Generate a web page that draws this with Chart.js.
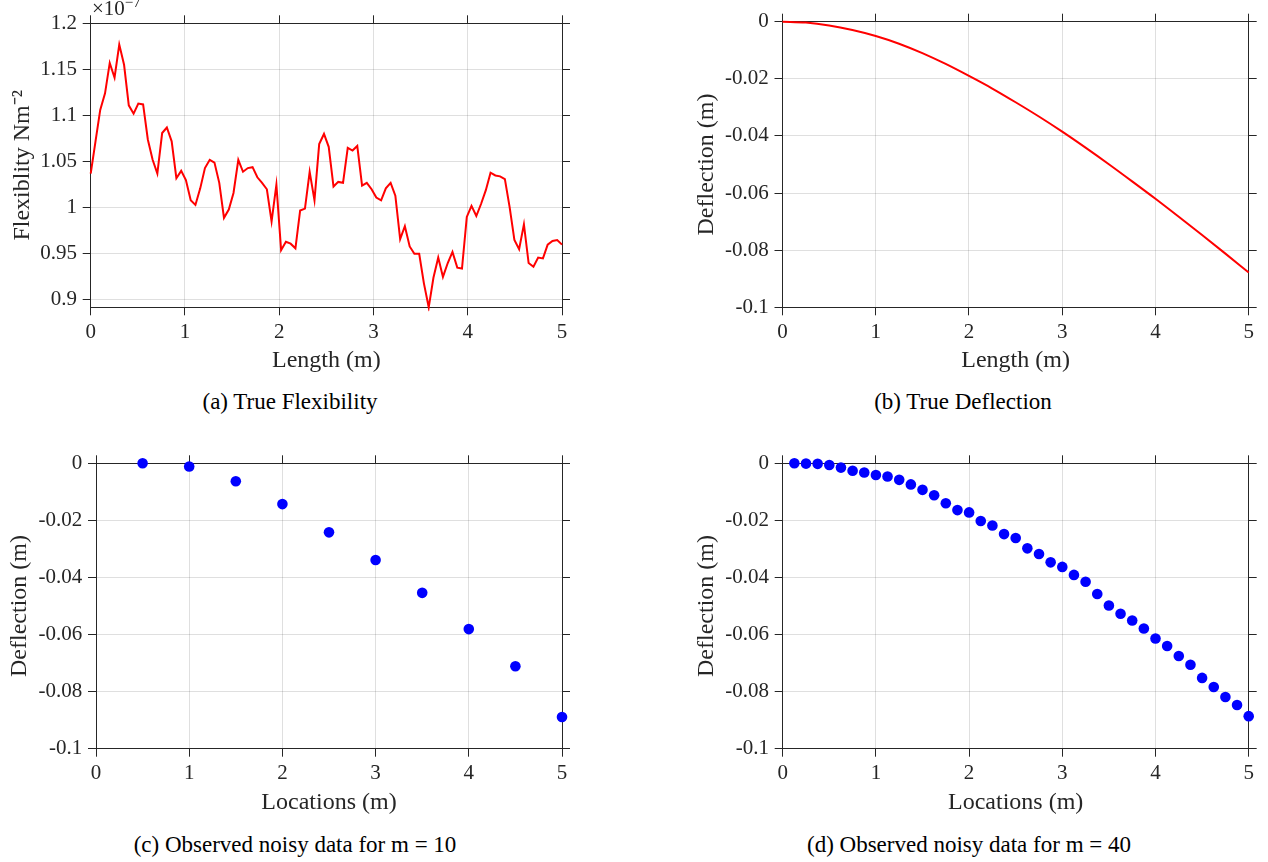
<!DOCTYPE html>
<html>
<head>
<meta charset="utf-8">
<script src="https://cdn.jsdelivr.net/npm/chart.js@4.4.1/dist/chart.umd.min.js"></script>
<style>
  html, body { margin: 0; padding: 0; background: #fff; }
  body { width: 1268px; height: 862px; position: relative; overflow: hidden; font-family: 'Liberation Serif', 'Times New Roman', serif; }
  canvas { position: absolute; }
  .cap { position: absolute; width: 600px; text-align: center; font-size: 23px; line-height: 30px; color: #000; }
  .expo { position: absolute; left: 92px; top: -2px; font-size: 21px; line-height: 21px; color: #262626; white-space: nowrap; }
  .expo sup { font-size: 15px; vertical-align: 8px; line-height: 0; }
</style>
</head>
<body>
<canvas id="ca" width="634" height="380" style="left:0px;top:0px"></canvas>
<canvas id="cb" width="634" height="380" style="left:634px;top:0px"></canvas>
<canvas id="cc" width="634" height="380" style="left:0px;top:440px"></canvas>
<canvas id="cd" width="634" height="380" style="left:634px;top:440px"></canvas>
<div class="expo">×10<sup>−7</sup></div>
<div class="cap" style="left:-10px;top:387px">(a) True Flexibility</div>
<div class="cap" style="left:663px;top:387px">(b) True Deflection</div>
<div class="cap" style="left:-5px;top:830px">(c) Observed noisy data for m = 10</div>
<div class="cap" style="left:669px;top:830px">(d) Observed noisy data for m = 40</div>
<script>
// ---------- DATA ----------
// (a) True flexibility (units of 1e-7 N m^-2) sampled along the length
const lengthA = [0,0.051,0.101,0.152,0.202,0.253,0.303,0.354,0.404,0.455,0.505,0.556,0.606,0.657,0.707,0.758,0.808,0.859,0.909,0.960,
  1.010,1.061,1.111,1.162,1.212,1.263,1.313,1.364,1.414,1.465,1.515,1.566,1.616,1.667,1.717,1.768,1.818,1.869,1.919,1.970,
  2.020,2.071,2.121,2.172,2.222,2.273,2.323,2.374,2.424,2.475,2.525,2.576,2.626,2.677,2.727,2.778,2.828,2.879,2.929,2.980,
  3.030,3.081,3.131,3.182,3.232,3.283,3.333,3.384,3.434,3.485,3.535,3.586,3.636,3.687,3.737,3.788,3.838,3.889,3.939,3.990,
  4.040,4.091,4.141,4.192,4.242,4.293,4.343,4.394,4.444,4.495,4.545,4.596,4.646,4.697,4.747,4.798,4.848,4.899,4.949,5.000];
const flexibility = [1.037,1.072,1.106,1.124,1.157,1.141,1.177,1.155,1.111,1.102,1.113,1.112,1.074,1.052,1.037,1.081,1.087,1.072,1.032,1.040,
  1.030,1.008,1.003,1.021,1.043,1.052,1.049,1.027,0.989,0.998,1.016,1.052,1.039,1.043,1.044,1.033,1.027,1.020,0.985,1.025,
  0.954,0.963,0.961,0.956,0.997,0.999,1.039,1.008,1.069,1.080,1.066,1.023,1.028,1.027,1.065,1.062,1.067,1.024,1.027,1.020,
  1.011,1.008,1.021,1.027,1.013,0.966,0.980,0.958,0.950,0.950,0.918,0.892,0.924,0.946,0.925,0.940,0.952,0.935,0.934,0.990,
  1.002,0.991,1.004,1.019,1.038,1.035,1.034,1.031,1.001,0.965,0.955,0.982,0.940,0.936,0.946,0.945,0.960,0.964,0.965,0.960];

// (b) True deflection
const lengthB = [0,0.25,0.5,0.75,1,1.25,1.5,1.75,2,2.25,2.5,2.75,3,3.25,3.5,3.75,4,4.25,4.5,4.75,5];
const deflectionB = [0,-0.0003,-0.0013,-0.0029,-0.0050,-0.0077,-0.0110,-0.0148,-0.0190,-0.0234,-0.0282,-0.0332,-0.0385,
  -0.0441,-0.0499,-0.0559,-0.0620,-0.0683,-0.0747,-0.0812,-0.0878];

// (c) Observed noisy data, m = 10
const locationsC = [0.5,1,1.5,2,2.5,3,3.5,4,4.5,5];
const observedC = [0.0000,-0.0011,-0.0063,-0.0143,-0.0242,-0.0339,-0.0454,-0.0581,-0.0711,-0.0889];

// (d) Observed noisy data, m = 40
const locationsD = [0.125,0.25,0.375,0.5,0.625,0.75,0.875,1,1.125,1.25,1.375,1.5,1.625,1.75,1.875,2,2.125,2.25,2.375,2.5,
  2.625,2.75,2.875,3,3.125,3.25,3.375,3.5,3.625,3.75,3.875,4,4.125,4.25,4.375,4.5,4.625,4.75,4.875,5];
const observedD = [0.0000,-0.0001,-0.0002,-0.0006,-0.0015,-0.0026,-0.0032,-0.0041,-0.0046,-0.0058,-0.0074,-0.0093,-0.0112,-0.0140,
  -0.0164,-0.0172,-0.0202,-0.0218,-0.0248,-0.0262,-0.0298,-0.0318,-0.0347,-0.0363,-0.0391,-0.0415,-0.0458,-0.0498,-0.0527,-0.0551,
  -0.0579,-0.0614,-0.0640,-0.0675,-0.0706,-0.0752,-0.0784,-0.0819,-0.0847,-0.0886];

// tick labels
const xTicks = [0,1,2,3,4,5];
const yTicksFlex = [0.9,0.95,1,1.05,1.1,1.15,1.2];
const yTicksDefl = [-0.1,-0.08,-0.06,-0.04,-0.02,0];

// ---------- STYLE / BUILD ----------
const FAMILY = "'Liberation Serif', 'Times New Roman', serif";
const AX = '#262626';
const GRID = 'rgba(38,38,38,0.15)';
const fmt = v => String(Math.round(v * 1e6) / 1e6);
const pts = (xs, ys) => xs.map((x, i) => ({ x: x, y: ys[i] }));

function scales(o) {
  const setTicks = arr => s => { s.ticks = arr.map(v => ({ value: v })); };
  return {
    x: {
      type: 'linear', position: 'bottom', min: 0, max: 5,
      afterBuildTicks: setTicks(xTicks),
      afterFit: s => { s.height = o.xh; },
      grid: { color: GRID, lineWidth: 1, tickColor: AX, tickLength: 8, tickWidth: 1 },
      border: { color: AX, width: 1 },
      ticks: { color: AX, font: { family: FAMILY, size: 21 }, padding: 4.5, maxRotation: 0, autoSkip: false, callback: fmt },
      title: { display: true, text: o.xtitle, color: AX, font: { family: FAMILY, size: 24 }, padding: { top: 0, bottom: o.xtp } }
    },
    y: {
      type: 'linear', position: 'left', min: o.ymin, max: o.ymax,
      afterBuildTicks: setTicks(o.yticks),
      afterFit: s => { s.width = o.yw; },
      grid: { color: GRID, lineWidth: 1, tickColor: AX, tickLength: 8, tickWidth: 1 },
      border: { color: AX, width: 1 },
      ticks: { color: AX, font: { family: FAMILY, size: 21 }, padding: 5.7, autoSkip: false, callback: fmt },
      title: { display: true, text: o.ytitle, color: AX, font: { family: FAMILY, size: 24 }, padding: { top: o.ytp, bottom: 0 } }
    },
    x2: {
      type: 'linear', position: 'top', min: 0, max: 5,
      afterBuildTicks: setTicks(xTicks),
      afterFit: s => { s.height = o.x2h; },
      grid: { drawOnChartArea: false, tickColor: AX, tickLength: 8, tickWidth: 1 },
      border: { color: AX, width: 1 },
      ticks: { display: false }
    },
    y2: {
      type: 'linear', position: 'right', min: o.ymin, max: o.ymax,
      afterBuildTicks: setTicks(o.yticks),
      afterFit: s => { s.width = 10; },
      grid: { drawOnChartArea: false, tickColor: AX, tickLength: 8, tickWidth: 1 },
      border: { color: AX, width: 1 },
      ticks: { display: false }
    }
  };
}

function make(id, type, dataset, pad, o) {
  return new Chart(document.getElementById(id), {
    type: type,
    data: { datasets: [dataset] },
    options: {
      responsive: false, animation: false,
      layout: { padding: pad },
      plugins: { legend: { display: false }, tooltip: { enabled: false } },
      scales: scales(o)
    }
  });
}

make('ca', 'line', {
  data: pts(lengthA, flexibility), borderColor: 'rgb(255,0,0)', borderWidth: 2, pointRadius: 0, tension: 0, clip: 4
}, { left: 0, right: 62, top: 0, bottom: 0 }, {
  xh: 72.7, x2h: 23.3, yw: 90.7, ymin: 0.892, ymax: 1.2, yticks: yTicksFlex,
  xtitle: 'Length (m)', ytitle: 'Flexiblity Nm⁻²', xtp: 4.6, ytp: 8.6
});

make('cb', 'line', {
  data: pts(lengthB, deflectionB), borderColor: 'rgb(255,0,0)', borderWidth: 2, pointRadius: 0, cubicInterpolationMode: 'monotone', clip: 4
}, { left: 52.5, right: 9.3, top: 0, bottom: 0 }, {
  xh: 72.7, x2h: 21.7, yw: 96, ymin: -0.1, ymax: 0, yticks: yTicksDefl,
  xtitle: 'Length (m)', ytitle: 'Deflection (m)', xtp: 4.6, ytp: 5.6
});

make('cc', 'scatter', {
  data: pts(locationsC, observedC), backgroundColor: 'rgb(0,0,255)', borderWidth: 0, pointRadius: 5.3, clip: false
}, { left: 0, right: 62, top: 0, bottom: 0 }, {
  xh: 71.3, x2h: 23.3, yw: 96, ymin: -0.1, ymax: 0, yticks: yTicksDefl,
  xtitle: 'Locations (m)', ytitle: 'Deflection (m)', xtp: 2.6, ytp: 5.6
});

make('cd', 'scatter', {
  data: pts(locationsD, observedD), backgroundColor: 'rgb(0,0,255)', borderWidth: 0, pointRadius: 5.3, clip: false
}, { left: 52.7, right: 9.3, top: 0, bottom: 0 }, {
  xh: 71.3, x2h: 23.3, yw: 96, ymin: -0.1, ymax: 0, yticks: yTicksDefl,
  xtitle: 'Locations (m)', ytitle: 'Deflection (m)', xtp: 2.6, ytp: 5.6
});
</script>
</body>
</html>
